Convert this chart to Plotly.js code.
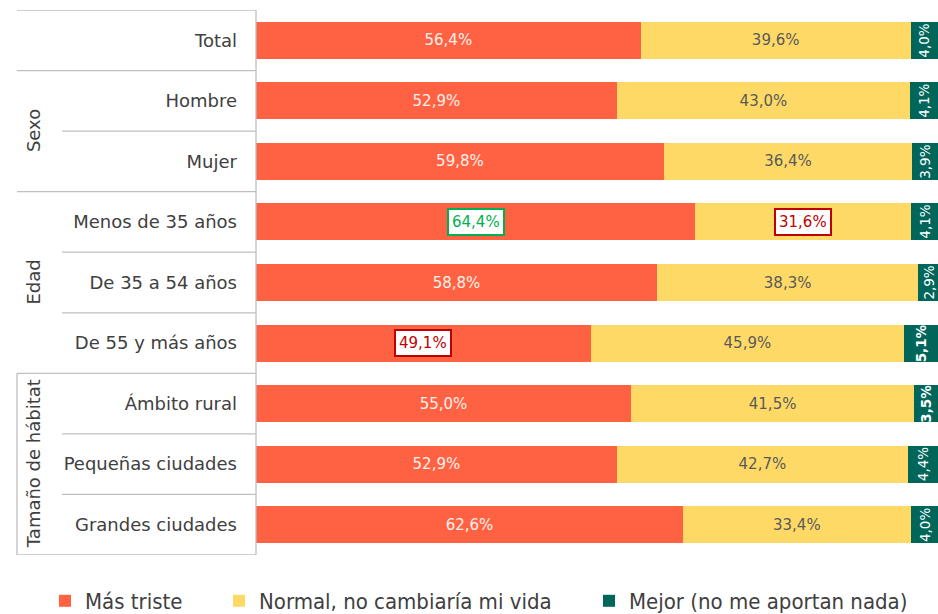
<!DOCTYPE html>
<html>
<head>
<meta charset="utf-8">
<script src="https://cdn.plot.ly/plotly-3.0.1.min.js"></script>
<style>html,body{margin:0;padding:0;background:#fff;}#chart{width:938px;height:614px;}</style>
</head>
<body>
<div id="chart"></div>
<script>
const categories = ["Total", "Hombre", "Mujer", "Menos de 35 años", "De 35 a 54 años", "De 55 y más años", "Ámbito rural", "Pequeñas ciudades", "Grandes ciudades"];
const masTriste = [56.4, 52.9, 59.8, 64.4, 58.8, 49.1, 55.0, 52.9, 62.6];
const normal = [39.6, 43.0, 36.4, 31.6, 38.3, 45.9, 41.5, 42.7, 33.4];
const mejor = [4.0, 4.1, 3.9, 4.1, 2.9, 5.1, 3.5, 4.4, 4.0];
const seriesNames = ["Más triste", "Normal, no cambiaría mi vida", "Mejor (no me aportan nada)"];
const groups = [{name: "Sexo", from: 1, to: 2}, {name: "Edad", from: 3, to: 5}, {name: "Tamaño de hábitat", from: 6, to: 8}];
// highlighted labels: [series index, category index, kind]
const highlights = [[0, 3, "up"], [1, 3, "down"], [0, 5, "down"]];
const boldGreen = [5, 6];

const fmt = v => v.toFixed(1).replace(".", ",") + "%";
const FONT = "DejaVu Sans, Verdana, sans-serif";
const colors = ["#FF6242", "#FED966", "#00665A"];
const series = [masTriste, normal, mejor];
const legendIds = ["legend", "legend2", "legend3"];

const isHL = (s, i) => highlights.some(h => h[0] === s && h[1] === i);

const traces = series.map((vals, s) => ({
  type: "bar",
  orientation: "h",
  name: seriesNames[s],
  legend: legendIds[s],
  y: categories,
  x: vals,
  marker: {color: colors[s], line: {width: 0}},
  text: vals.map((v, i) => (s === 2 || isHL(s, i)) ? "" : fmt(v)),
  texttemplate: "%{text}",
  textposition: s === 2 ? "none" : "inside",
  insidetextanchor: "middle",
  textangle: 0,
  constraintext: "none",
  textfont: {family: FONT, size: 15, color: s === 0 ? "#FFF1EC" : "#595959"},
  hoverinfo: "skip",
  cliponaxis: false
}));

const annotations = [];
const segCenter = (s, i) => {
  let start = 0;
  for (let k = 0; k < s; k++) start += series[k][i];
  return start + series[s][i] / 2;
};
highlights.forEach(([s, i, kind]) => {
  const col = kind === "up" ? "#00B050" : "#C00000";
  annotations.push({
    x: segCenter(s, i), y: categories[i], xref: "x", yref: "y",
    text: fmt(series[s][i]), showarrow: false,
    font: {family: FONT, size: 15, color: col},
    bgcolor: "#FFFFFF", bordercolor: col, borderwidth: 2, borderpad: 3
  });
});
mejor.forEach((v, i) => {
  const t = fmt(v);
  annotations.push({
    x: segCenter(2, i), y: categories[i], xref: "x", yref: "y",
    text: boldGreen.includes(i) ? "<b>" + t + "</b>" : t, showarrow: false,
    textangle: -90,
    font: {family: FONT, size: 13.5, color: "#FFFFFF"},
    xanchor: "center", yanchor: "middle"
  });
});

const PL = 256, PW = 682, PT = 10, PH = 545;
const px = x => (x - PL) / PW;
const py = y => 1 - (y - PT) / PH;

groups.forEach(g => {
  annotations.push({
    x: px(33), y: (g.from + g.to) / 2, xref: "paper", yref: "y",
    text: g.name, showarrow: false, textangle: -90,
    font: {family: FONT, size: 18, color: "#404040"},
    xanchor: "center", yanchor: "middle"
  });
});

const shapes = [];
const lineStyle = {color: "#BFBFBF", width: 1.3};
const fullLines = [-0.5, 0.5, 2.5, 5.5, 8.5];
const partLines = [1.5, 3.5, 4.5, 6.5, 7.5];
fullLines.forEach(y => shapes.push({type: "line", xref: "paper", yref: "y", x0: px(17), x1: 0, y0: y, y1: y, line: lineStyle}));
partLines.forEach(y => shapes.push({type: "line", xref: "paper", yref: "y", x0: px(62), x1: 0, y0: y, y1: y, line: lineStyle}));
shapes.push({type: "line", xref: "paper", yref: "y", x0: px(17), x1: px(17), y0: 5.5, y1: 8.5, line: lineStyle});
shapes.push({type: "line", xref: "paper", yref: "y", x0: 0, x1: 0, y0: -0.5, y1: 8.5, line: lineStyle});

const legendX = [45, 219, 589];
const legendBase = {
  orientation: "h", xref: "paper", yref: "paper", xanchor: "left", yanchor: "middle",
  y: py(601),
  font: {family: "DejaVu Sans Condensed, DejaVu Sans, sans-serif", size: 22, color: "#404040"},
  itemclick: false, itemdoubleclick: false, bgcolor: "rgba(0,0,0,0)"
};

const layout = {
  width: 938, height: 614,
  margin: {l: PL, r: 0, t: PT, b: 614 - PT - PH, autoexpand: false},
  barmode: "stack",
  bargap: 0.39,
  paper_bgcolor: "#FFFFFF",
  plot_bgcolor: "#FFFFFF",
  xaxis: {range: [0, 100], visible: false, fixedrange: true},
  yaxis: {
    autorange: false, range: [8.5, -0.5],
    showline: false, showgrid: false, zeroline: false,
    ticks: "", ticklabelstandoff: 18,
    tickfont: {family: FONT, size: 18, color: "#404040"}
  },
  showlegend: true,
  legend: Object.assign({}, legendBase, {x: px(legendX[0])}),
  legend2: Object.assign({}, legendBase, {x: px(legendX[1])}),
  legend3: Object.assign({}, legendBase, {x: px(legendX[2])}),
  annotations: annotations,
  shapes: shapes
};

Plotly.newPlot("chart", traces, layout, {displayModeBar: false, staticPlot: true});
</script>
</body>
</html>
